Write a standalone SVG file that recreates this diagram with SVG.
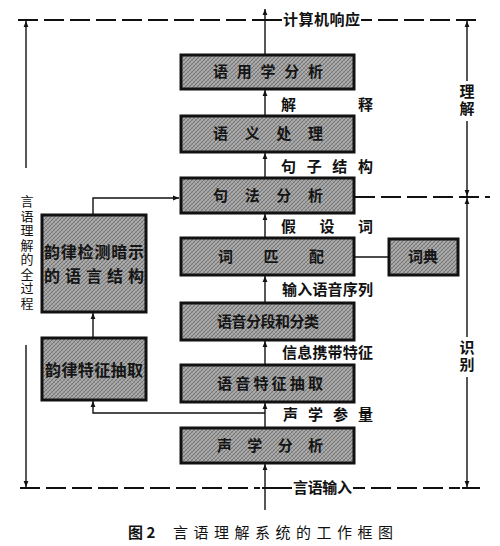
<svg xmlns="http://www.w3.org/2000/svg" width="500" height="546" viewBox="0 0 500 546">
<style>
.box{fill:url(#hatch);stroke:#111;stroke-width:3}
.ln{stroke:#111;stroke-width:1.4;fill:none}
.dash{stroke:#111;stroke-width:2;fill:none;stroke-dasharray:20 6}
.bt{font-family:"Noto Sans CJK SC",sans-serif;font-weight:bold;font-size:15px;fill:#151515}
.lb{font-family:"Noto Sans CJK SC",sans-serif;font-weight:bold;font-size:15px;fill:#111}
.vr{font-family:"Noto Sans CJK SC",sans-serif;font-weight:bold;font-size:15px;fill:#111;writing-mode:vertical-rl;text-orientation:upright;letter-spacing:2px}
.vl{font-family:"Noto Sans CJK SC",sans-serif;font-size:13px;fill:#111;writing-mode:vertical-rl;text-orientation:upright;letter-spacing:1.5px}
.cap{font-family:"Noto Sans CJK SC",sans-serif;font-size:15px;fill:#111}
</style>
<defs>
<pattern id="hatch" width="4" height="4" patternUnits="userSpaceOnUse">
<rect width="4" height="4" fill="#ababab"/>
<path d="M0,4 L4,0 M-1,1 L1,-1 M3,5 L5,3" stroke="#6e6e6e" stroke-width="0.9"/>
<path d="M0,0 L4,4" stroke="#858585" stroke-width="0.6"/>
</pattern>
<marker id="ah" viewBox="0 0 10 10" refX="10" refY="5" markerWidth="8" markerHeight="6" orient="auto" markerUnits="userSpaceOnUse">
<path d="M0,1 L10,5 L0,9 Z" fill="#111"/>
</marker>
</defs>

<g id="connectors">
<line class="ln" x1="265" y1="510" x2="265" y2="464" marker-end="url(#ah)"/>
<line class="ln" x1="265" y1="428" x2="265" y2="403" marker-end="url(#ah)"/>
<line class="ln" x1="265" y1="365" x2="265" y2="341" marker-end="url(#ah)"/>
<line class="ln" x1="265" y1="303" x2="265" y2="276" marker-end="url(#ah)"/>
<line class="ln" x1="265" y1="238" x2="265" y2="214" marker-end="url(#ah)"/>
<line class="ln" x1="265" y1="178" x2="265" y2="153" marker-end="url(#ah)"/>
<line class="ln" x1="265" y1="116" x2="265" y2="90" marker-end="url(#ah)"/>
<line class="ln" x1="265" y1="55" x2="265" y2="9" marker-end="url(#ah)"/>
<line class="ln" x1="355" y1="257" x2="388" y2="257"/>
<polyline class="ln" points="265,413 93,413 93,401" marker-end="url(#ah)"/>
<line class="ln" x1="93" y1="338" x2="93" y2="313" marker-end="url(#ah)"/>
<polyline class="ln" points="93,215 93,198 179,198" marker-end="url(#ah)"/>
<line class="dash" x1="18" y1="20" x2="258" y2="20"/>
<line class="ln" x1="258" y1="20" x2="282" y2="20" style="stroke-width:2"/>
<line class="ln" x1="361" y1="20" x2="372" y2="20" style="stroke-width:2"/>
<line class="dash" x1="378" y1="20" x2="482" y2="20"/>
<line class="dash" x1="355" y1="197" x2="490" y2="197"/>
<line class="dash" x1="20" y1="488" x2="260" y2="488"/>
<line class="ln" x1="262" y1="488" x2="292" y2="488" style="stroke-width:2"/>
<line class="ln" x1="353" y1="488" x2="365" y2="488" style="stroke-width:2"/>
<line class="dash" x1="371" y1="488" x2="460" y2="488"/>
<line class="ln" x1="462" y1="488" x2="480" y2="488" style="stroke-width:2"/>
<line class="ln" x1="467" y1="81" x2="467" y2="21" marker-end="url(#ah)"/>
<line class="ln" x1="467" y1="121" x2="467" y2="196" marker-end="url(#ah)"/>
<line class="ln" x1="467" y1="337" x2="467" y2="198" marker-end="url(#ah)"/>
<line class="ln" x1="467" y1="377" x2="467" y2="487" marker-end="url(#ah)"/>
<line class="ln" x1="26" y1="168" x2="26" y2="21" marker-end="url(#ah)"/>
<line class="ln" x1="26" y1="345" x2="26" y2="487" marker-end="url(#ah)"/>
</g>

<g id="n-pragmatics"><rect class="box" x="181" y="55" width="173" height="34"/><text class="bt" x="213" y="77" textLength="110" lengthAdjust="spacing">语用学分析</text></g>
<g id="n-semantics"><rect class="box" x="181" y="116" width="173" height="36"/><text class="bt" x="213" y="139" textLength="110" lengthAdjust="spacing">语义处理</text></g>
<g id="n-syntax"><rect class="box" x="181" y="178" width="173" height="35"/><text class="bt" x="213" y="201" textLength="110" lengthAdjust="spacing">句法分析</text></g>
<g id="n-wordmatch"><rect class="box" x="181" y="238" width="173" height="37"/><text class="bt" x="218" y="262" textLength="106" lengthAdjust="spacing">词匹配</text></g>
<g id="n-lexicon"><rect class="box" x="389" y="239" width="69" height="36"/><text class="bt" x="408" y="262">词典</text></g>
<g id="n-segment"><rect class="box" x="181" y="303" width="173" height="37"/><text class="bt" x="217" y="327" textLength="102" lengthAdjust="spacing">语音分段和分类</text></g>
<g id="n-feature"><rect class="box" x="181" y="365" width="173" height="37"/><text class="bt" x="217" y="389" textLength="106" lengthAdjust="spacing">语音特征抽取</text></g>
<g id="n-acoustic"><rect class="box" x="181" y="428" width="173" height="35"/><text class="bt" x="217" y="451" textLength="106" lengthAdjust="spacing">声学分析</text></g>
<g id="n-prosody-struct"><rect class="box" x="42" y="215" width="104" height="97"/><text class="bt" x="44" y="258" textLength="100" lengthAdjust="spacing" style="font-size:16px">韵律检测暗示</text><text class="bt" x="44" y="282" textLength="100" lengthAdjust="spacing" style="font-size:16px">的语言结构</text></g>
<g id="n-prosody-feat"><rect class="box" x="42" y="338" width="104" height="62"/><text class="bt" x="45" y="376" textLength="98" lengthAdjust="spacing" style="font-size:16px">韵律特征抽取</text></g>

<g id="labels">
<text class="lb" x="283" y="25" textLength="77" lengthAdjust="spacing">计算机响应</text>
<text class="lb" x="281" y="110" textLength="92" lengthAdjust="spacing">解释</text>
<text class="lb" x="281" y="172" textLength="92" lengthAdjust="spacing">句子结构</text>
<text class="lb" x="281" y="232" textLength="92" lengthAdjust="spacing">假设词</text>
<text class="lb" x="282" y="295" textLength="91" lengthAdjust="spacing">输入语音序列</text>
<text class="lb" x="282" y="358" textLength="91" lengthAdjust="spacing">信息携带特征</text>
<text class="lb" x="283" y="420" textLength="90" lengthAdjust="spacing">声学参量</text>
<text class="lb" x="293" y="493" textLength="59" lengthAdjust="spacing">言语输入</text>
<text class="vr" x="467" y="84">理解</text>
<text class="vr" x="467" y="340">识别</text>
<text class="vl" x="27" y="195">言语理解的全过程</text>
<text class="cap" x="128" y="538" style="font-weight:bold">图 2</text>
<text class="cap" x="173" y="538" textLength="220" lengthAdjust="spacing">言语理解系统的工作框图</text>
</g>
</svg>
